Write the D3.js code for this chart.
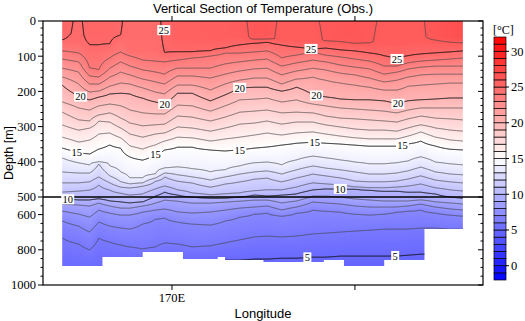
<!DOCTYPE html>
<html>
<head>
<meta charset="utf-8">
<script src="https://cdn.jsdelivr.net/npm/d3@7"></script>
<style>
  body { margin: 0; background: #fff; }
  svg { display: block; }
  .serif { font-family: "Liberation Serif", "Times New Roman", "DejaVu Serif", serif; }
  .sans { font-family: "Liberation Sans", Arial, Helvetica, sans-serif; }
</style>
</head>
<body>
<svg width="525" height="321"></svg>
<script>
// station longitudes (deg E, values > 180 are west of the dateline)
const stationLon = [164.0, 164.9, 165.5, 166.0, 166.6, 167.2, 167.7, 168.4, 169.1, 169.6, 170.3, 171.1, 172.1, 172.9, 173.7, 174.5,
  175.2, 176.0, 176.8, 177.7, 178.4, 179.2, 180.0, 180.8, 181.6, 182.3, 182.9, 183.6, 184.4, 185.2, 185.9];

// surface temperature and mixed layer depth (m)
const sst = [25.2, 24.9, 25.2, 25.2, 25.2, 25.05, 24.8, 24.8, 24.8, 25.15, 25.6, 25.6, 25.7, 25.7, 25.8, 26.2,
  26.2, 25.9, 25.9, 25.9, 26.1, 26.2, 26.2, 26.1, 25.9, 25.9, 25.9, 25.9, 26.3, 26.6, 26.8];
const mixedLayer = [35, 60, 40, 40, 40, 40, 85, 85, 85, 50, 50, 50, 50, 50, 45, 50,
  50, 55, 55, 55, 55, 55, 60, 60, 60, 65, 60, 60, 45, 45, 45];

// depth (m) of each isotherm at every station
const iso25 = [54, null, 68, 68, 65, 68, null, null, null, 91, 88, 88, 85, 77, 68, 63, 60, 68, 74, 80, 77, 82, 85, 91, 99, 108, 99, 94, 91, 88, 85];
const iso24 = [85, 91, 134, 139, 105, 88, 99, 111, 114, 116, 111, 105, 99, 91, 91, 88, 85, 105, 97, 88, 97, 102, 108, 114, 128, 128, 119, 114, 111, 108, 105];
const iso23 = [108, 116, 156, 159, 134, 116, 128, 139, 145, 151, 134, 134, 134, 122, 116, 111, 108, 128, 119, 111, 116, 125, 131, 136, 151, 145, 136, 131, 128, 128, 128];
const iso22 = [134, 145, 179, 179, 159, 145, 153, 165, 173, 179, 156, 156, 162, 151, 142, 136, 134, 153, 142, 134, 139, 148, 153, 162, 173, 168, 159, 153, 151, 151, 151];
const iso21 = [159, 179, 202, 199, 185, 176, 179, 190, 202, 207, 182, 182, 196, 179, 168, 162, 162, 179, 165, 159, 168, 176, 182, 188, 196, 196, 185, 182, 179, 176, 176];
const iso20 = [182, 213, 224, 216, 207, 205, 207, 219, 230, 236, 205, 205, 227, 210, 190, 188, 188, 199, 188, 210, 216, 222, 224, 224, 227, 236, 227, 224, 222, 219, 219];
const iso19 = [230, 247, 253, 241, 236, 241, 253, 261, 264, 264, 239, 241, 256, 241, 224, 222, 219, 230, 224, 236, 241, 247, 250, 253, 256, 261, 253, 247, 247, 247, 247];
const iso18 = [259, 281, 284, 267, 261, 276, 290, 298, 295, 293, 270, 273, 284, 273, 259, 256, 253, 261, 259, 261, 270, 276, 278, 281, 284, 287, 278, 270, 276, 278, 281];
const iso17 = [295, 310, 304, 284, 287, 304, 321, 330, 321, 318, 301, 304, 313, 304, 293, 290, 284, 293, 287, 287, 295, 301, 307, 310, 310, 313, 304, 295, 304, 310, 313];
const iso16 = [330, 344, 338, 321, 318, 332, 355, 364, 352, 341, 330, 332, 341, 335, 330, 324, 318, 324, 318, 315, 321, 327, 332, 335, 335, 335, 327, 315, 330, 338, 341];
const iso15 = [361, 375, 378, 364, 352, 361, 386, 395, 378, 366, 358, 358, 366, 369, 366, 361, 358, 352, 347, 344, 347, 349, 352, 355, 355, 355, 349, 341, 355, 364, 366];
const iso14 = [389, 403, 409, 401, 412, 429, 446, 446, 435, 418, 415, 420, 429, 423, 412, 403, 401, 409, 395, 384, 389, 395, 401, 406, 406, 403, 398, 386, 401, 406, 409];
const iso13 = [429, 432, 432, 406, 440, 457, 463, 460, 446, 432, 437, 443, 452, 443, 435, 429, 426, 435, 423, 412, 418, 423, 429, 435, 435, 432, 426, 415, 429, 435, 437];
const iso12 = [460, 460, 457, 443, 460, 472, 474, 469, 455, 443, 455, 460, 472, 463, 457, 449, 446, 457, 446, 435, 440, 446, 455, 457, 457, 455, 449, 440, 452, 457, 460];
const iso11 = [486, 483, 480, 466, 480, 489, 494, 491, 477, 469, 480, 489, 494, 491, 489, 483, 480, 480, 472, 460, 463, 466, 472, 474, 474, 472, 469, 463, 474, 480, 483];
const iso10 = [511, 517, 517, 511, 523, 528, 534, 528, 497, 486, 494, 500, 506, 506, 500, 494, 497, 494, 491, 480, 477, 477, 477, 480, 483, 483, 486, 486, 491, 500, 506];
const iso9 = [540, 545, 551, 534, 551, 563, 563, 551, 534, 517, 523, 534, 534, 528, 523, 517, 517, 534, 523, 497, 497, 500, 511, 517, 523, 523, 523, 517, 528, 534, 540];
const iso8 = [580, 597, 614, 574, 591, 602, 602, 585, 574, 568, 585, 591, 585, 574, 563, 557, 551, 574, 557, 528, 534, 540, 551, 557, 557, 557, 551, 540, 557, 568, 574];
const iso7 = [636, 665, 699, 642, 665, 676, 682, 653, 625, 619, 642, 653, 659, 636, 614, 597, 591, 608, 591, 574, 580, 585, 597, 602, 597, 585, 580, 574, 591, 602, 608];
const iso6 = [733, 767, 801, 733, 756, 773, 784, 795, 784, 761, 767, 784, 778, 761, 744, 727, 722, 727, 722, 710, 705, 699, 693, 688, 682, 682, 682, 676, 676, 682, 682];
const iso5 = [915, 915, 915, 903, 903, 898, 898, 892, 886, 881, 875, 869, 864, 858, 858, 852, 852, 847, 847, 841, 841, 835, 835, 835, 835, 835, 830, 824, 824, 824, 824];
const deepTemp = 4.3; // at 1000 m

// sea floor (data limit): longitude edges and depth of each step
const floorEdges = [164.0, 166.2, 168.4, 170.6, 172.5, 172.9, 175.0, 178.3, 179.4, 181.6, 183.8, 185.9];
const floorDepth = [892, 841, 812, 852, 841, 858, 869, 858, 892, 858, 682];

// contour labels (depth null = placed on the isotherm)
const labelTemp = [25, 25, 25, 20, 20, 20, 20, 20, 15, 15, 15, 15, 15, 10, 10, 5, 5];
const labelLon = [169.55, 177.6, 182.3, 165.0, 169.6, 173.7, 177.9, 182.35, 164.8, 169.1, 173.7, 177.8, 182.6, 164.3, 179.2, 177.4, 182.2];
const labelDepth = [26, null, null, null, null, null, null, null, null, null, null, null, null, null, null, null, null];

const depthTicks = [0, 100, 200, 300, 400, 500, 600, 800, 1000];
const lonTicks = [170, 180];
const lonTickLabels = ["170E", ""];
const barTicks = [0, 5, 10, 15, 20, 25, 30];

const isotherms = [[25, iso25], [24, iso24], [23, iso23], [22, iso22], [21, iso21], [20, iso20], [19, iso19],
  [18, iso18], [17, iso17], [16, iso16], [15, iso15], [14, iso14], [13, iso13], [12, iso12], [11, iso11],
  [10, iso10], [9, iso9], [8, iso8], [7, iso7], [6, iso6], [5, iso5]];

const svg = d3.select("svg");

const x = d3.scaleLinear().domain([162.95, 187.0]).range([43, 483]);
const y = d3.scaleLinear().domain([0, 500, 1000]).range([21, 197, 285]);
const color = d3.scaleLinear().domain([-2, 15, 32]).range(["#0000ff", "#ffffff", "#ff0000"]).clamp(true);
const [x0, x1] = x.range();
const [y0, y1] = [y(0), y(1000)];

// temperature profile for every station
const profiles = stationLon.map((lon, i) => {
    const pts = [[0, sst[i]], [mixedLayer[i], sst[i] - 0.05]];
    isotherms.forEach(([t, arr]) => {
        const d = arr[i];
        if (d != null && d > pts[pts.length - 1][0] && t < sst[i] - 0.05) pts.push([d, t]);
    });
    pts.push([1000, deepTemp]);
    return pts;
});

function tempAt(p, d) {
    for (let k = 1; k < p.length; k++) {
        if (d <= p[k][0]) {
            const [da, ta] = p[k - 1], [db, tb] = p[k];
            return ta + (tb - ta) * (d - da) / (db - da);
        }
    }
    return p[p.length - 1][1];
}

// field on a pixel grid (a little larger than the data so the contour borders fall outside the clip)
const gx0 = Math.floor(x(stationLon[0])) - 3, gy0 = y0 - 3;
const nx = Math.ceil(x(stationLon[stationLon.length - 1])) - gx0 + 4, ny = y1 - gy0 + 4;
const values = new Float64Array(nx * ny);
for (let i = 0; i < nx; i++) {
    const lon = Math.max(stationLon[0], Math.min(stationLon[stationLon.length - 1], x.invert(gx0 + i + 0.5)));
    let k = d3.bisectRight(stationLon, lon) - 1;
    k = Math.max(0, Math.min(stationLon.length - 2, k));
    const f = (lon - stationLon[k]) / (stationLon[k + 1] - stationLon[k]);
    for (let j = 0; j < ny; j++) {
        const d = Math.max(0, Math.min(1000, y.invert(gy0 + j + 0.5)));
        values[j * nx + i] = (1 - f) * tempAt(profiles[k], d) + f * tempAt(profiles[k + 1], d);
    }
}

// clip to the sea floor
const floorPts = [];
floorDepth.forEach((dep, k) => {
    floorPts.push([x(floorEdges[k]), y(dep)], [x(floorEdges[k + 1]), y(dep)]);
});
const clipPoly = [[x(floorEdges[0]), y0], [x(floorEdges[floorEdges.length - 1]), y0]].concat(floorPts.reverse());
svg.append("defs").append("clipPath").attr("id", "sea")
    .append("polygon").attr("points", clipPoly.map(p => p.join(",")).join(" "));

// colour image
const canvas = document.createElement("canvas");
canvas.width = nx; canvas.height = ny;
const ctx = canvas.getContext("2d");
const img = ctx.createImageData(nx, ny);
for (let n = 0; n < nx * ny; n++) {
    const c = d3.rgb(color(values[n]));
    img.data[4 * n] = c.r; img.data[4 * n + 1] = c.g; img.data[4 * n + 2] = c.b; img.data[4 * n + 3] = 255;
}
ctx.putImageData(img, 0, 0);

const sea = svg.append("g").attr("clip-path", "url(#sea)");
sea.append("image").attr("x", gx0).attr("y", gy0).attr("width", nx).attr("height", ny)
    .attr("preserveAspectRatio", "none").attr("href", canvas.toDataURL());

// isotherms
const contours = d3.contours().size([nx, ny]).thresholds(d3.range(5, 29))(values);
sea.append("g").attr("transform", `translate(${gx0},${gy0})`)
    .selectAll("path").data(contours).join("path")
    .attr("d", d3.geoPath())
    .attr("fill", "none")
    .attr("stroke", d => d.value % 5 === 0 ? "#111" : "#444")
    .attr("stroke-width", d => d.value % 5 === 0 ? 1 : 0.7)
    .attr("stroke-linejoin", "round");

// 500 m break line
svg.append("line").attr("x1", x0).attr("x2", x1).attr("y1", y(500)).attr("y2", y(500))
    .attr("stroke", "#000").attr("stroke-width", 1.5);

// contour labels
function isoDepthAt(arr, lon) {
    let k = d3.bisectRight(stationLon, lon) - 1;
    k = Math.max(0, Math.min(stationLon.length - 2, k));
    const a = arr[k], b = arr[k + 1];
    if (a == null) return b;
    if (b == null) return a;
    const f = (lon - stationLon[k]) / (stationLon[k + 1] - stationLon[k]);
    return a + (b - a) * f;
}
const isoByTemp = new Map(isotherms);
const lab = svg.append("g").selectAll("g").data(labelTemp).join("g")
    .attr("transform", (t, i) => {
        const d = labelDepth[i] != null ? labelDepth[i] : isoDepthAt(isoByTemp.get(t), labelLon[i]);
        return `translate(${x(labelLon[i])},${y(d)})`;
    });
lab.append("rect").attr("x", t => t < 10 ? -4 : -6.5).attr("y", -5).attr("width", t => t < 10 ? 8 : 13).attr("height", 10)
    .attr("fill", "#fff");
lab.append("text").attr("class", "serif").text(t => t).attr("text-anchor", "middle").attr("dy", "0.35em")
    .attr("font-size", 10.5).attr("fill", "#000");

// frame and axes
const axes = svg.append("g").attr("stroke", "#000").attr("fill", "none");
axes.append("rect").attr("x", x0).attr("y", y0).attr("width", x1 - x0).attr("height", y1 - y0).attr("stroke-width", 1.2);
const minorDepth = d3.range(20, 500, 20).filter(d => d % 100).concat(d3.range(550, 1000, 50).filter(d => !depthTicks.includes(d)));
depthTicks.forEach(d => {
    axes.append("line").attr("x1", x0 - 5).attr("x2", x0).attr("y1", y(d)).attr("y2", y(d));
    axes.append("line").attr("x1", x1 - 5).attr("x2", x1).attr("y1", y(d)).attr("y2", y(d));
});
minorDepth.forEach(d => {
    axes.append("line").attr("x1", x0 - 2.5).attr("x2", x0).attr("y1", y(d)).attr("y2", y(d));
    axes.append("line").attr("x1", x1 - 2.5).attr("x2", x1).attr("y1", y(d)).attr("y2", y(d));
});
lonTicks.forEach(l => {
    axes.append("line").attr("x1", x(l)).attr("x2", x(l)).attr("y1", y0 - 5).attr("y2", y0);
    axes.append("line").attr("x1", x(l)).attr("x2", x(l)).attr("y1", y1).attr("y2", y1 + 5);
});

svg.append("g").selectAll("text").data(depthTicks).join("text").attr("class", "serif")
    .attr("x", x0 - 7).attr("y", d => y(d)).attr("dy", "0.35em").attr("text-anchor", "end")
    .attr("font-size", 12.5).text(d => d);
svg.append("g").selectAll("text").data(lonTicks).join("text").attr("class", "serif")
    .attr("x", d => x(d)).attr("y", y1 + 17).attr("text-anchor", "middle")
    .attr("font-size", 12.5).text((d, i) => lonTickLabels[i]);

svg.append("text").attr("class", "sans").attr("x", (x0 + x1) / 2).attr("y", 13).attr("text-anchor", "middle")
    .attr("font-size", 13).text("Vertical Section of Temperature (Obs.)");
svg.append("text").attr("class", "sans").attr("x", (x0 + x1) / 2).attr("y", 318).attr("text-anchor", "middle")
    .attr("font-size", 13).text("Longitude");
svg.append("text").attr("class", "sans").attr("transform", `translate(13,${(y0 + y1) / 2}) rotate(-90)`).attr("text-anchor", "middle")
    .attr("font-size", 12.5).text("Depth [m]");

// colour bar
const cb = d3.scaleLinear().domain([-2, 32]).range([280, 37]);
const bar = svg.append("g");
bar.selectAll("rect").data(d3.range(-2, 32)).join("rect")
    .attr("x", 494).attr("width", 12)
    .attr("y", t => cb(t + 1)).attr("height", t => cb(t) - cb(t + 1))
    .attr("fill", t => color(t + 0.5)).attr("stroke", "#000").attr("stroke-width", 0.7);
bar.selectAll("line").data(barTicks).join("line")
    .attr("x1", 506).attr("x2", 509).attr("y1", t => cb(t)).attr("y2", t => cb(t)).attr("stroke", "#000");
bar.selectAll("text").data(barTicks).join("text").attr("class", "serif")
    .attr("x", 511).attr("y", t => cb(t)).attr("dy", "0.35em")
    .attr("font-size", 12.5).text(t => t);
bar.append("text").attr("class", "serif").attr("x", 493).attr("y", 34).attr("font-size", 12).text("[°C]");
</script>
</body>
</html>
